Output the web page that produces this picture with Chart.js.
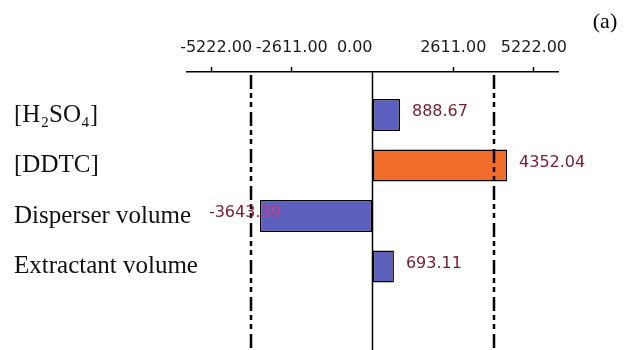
<!DOCTYPE html>
<html>
<head>
<meta charset="utf-8">
<script src="https://cdn.jsdelivr.net/npm/chart.js@4/dist/chart.umd.min.js"></script>
<style>
  html, body { margin: 0; padding: 0; background: #ffffff; }
  #wrap { width: 629px; height: 350px; position: relative; }
</style>
</head>
<body>
<div id="wrap"><canvas id="chart" width="629" height="350"></canvas></div>
<script>
// Factor effects (Pareto-style bar chart)
const categories = ['[H₂SO₄]', '[DDTC]', 'Disperser volume', 'Extractant volume'];
const effects = [888.67, 4352.04, -3643.39, 693.11];
const tickValues = [-5222, -2611, 0, 2611, 5222];
const significanceLimit = 3928;
const axisMin = -6000;
const axisMax = 6000;

const BLUE = '#5b5fbd';
const ORANGE = '#f26c2a';
const LABEL_RED = '#7a2030';
const LABEL_PINK = '#c24aa0';

// tick label spacing: the zero label sits left of its tick, the first one slightly right
function tickText(v) {
  const s = v.toFixed(2);
  if (v === 0) return s + '       ';
  if (v === tickValues[0]) return '  ' + s;
  return s;
}

// Zero line, dash-dot significance limits and the effect values
const overlayPlugin = {
  id: 'overlay',
  afterDatasetsDraw(chart) {
    const ctx = chart.ctx;
    const x = chart.scales.x;
    const top = x.bottom;
    const bottom = chart.height;
    ctx.save();
    ctx.strokeStyle = '#000';
    ctx.lineWidth = 2.5;
    ctx.setLineDash([14, 4, 5, 4, 5, 5]);
    [-significanceLimit, significanceLimit].forEach(v => {
      const px = Math.round(x.getPixelForValue(v));
      ctx.beginPath();
      ctx.moveTo(px, top + 3);
      ctx.lineTo(px, bottom);
      ctx.stroke();
    });
    ctx.setLineDash([]);
    ctx.lineWidth = 1.5;
    const zx = x.getPixelForValue(0);
    ctx.beginPath();
    ctx.moveTo(zx, top);
    ctx.lineTo(zx, bottom);
    ctx.stroke();

    const meta = chart.getDatasetMeta(0);
    ctx.font = '16px "DejaVu Sans"';
    ctx.textBaseline = 'middle';
    meta.data.forEach((bar, i) => {
      const v = effects[i];
      const text = v.toFixed(2);
      const y = bar.y - 3;
      if (v >= 0) {
        ctx.textAlign = 'left';
        ctx.fillStyle = LABEL_RED;
        ctx.fillText(text, bar.x + 12, y);
      } else {
        ctx.textAlign = 'right';
        const tx = bar.x + 21;
        ctx.fillStyle = LABEL_RED;
        ctx.fillText(text, tx, y);
        // part of the label lying over the bar
        const h = bar.height;
        ctx.save();
        ctx.beginPath();
        ctx.rect(bar.x + 1, bar.y - h / 2 + 1, bar.base - bar.x, h - 2);
        ctx.clip();
        ctx.fillStyle = LABEL_PINK;
        ctx.fillText(text, tx, y);
        ctx.restore();
      }
    });

    ctx.font = '22px "Liberation Serif"';
    ctx.fillStyle = '#000';
    ctx.textAlign = 'center';
    ctx.fillText('(a)', 605, 22);
    ctx.restore();
  }
};

const Y_AXIS_WIDTH = 173;
const LEFT_PAD = 14;

new Chart(document.getElementById('chart'), {
  type: 'bar',
  data: {
    labels: categories,
    datasets: [{
      data: effects,
      backgroundColor: ctx => Math.abs(ctx.raw) > significanceLimit ? ORANGE : BLUE,
      borderColor: '#000',
      borderWidth: 1.5,
      borderSkipped: false,
      barPercentage: 0.634,
      categoryPercentage: 1
    }]
  },
  options: {
    indexAxis: 'y',
    responsive: false,
    animation: false,
    events: [],
    layout: { padding: { left: LEFT_PAD, right: 71, top: 27.8, bottom: 58.25 } },
    plugins: { legend: { display: false }, tooltip: { enabled: false } },
    scales: {
      x: {
        type: 'linear',
        position: 'top',
        weight: 2,
        min: axisMin,
        max: axisMax,
        afterBuildTicks: s => { s.ticks = tickValues.map(v => ({ value: v })); },
        ticks: {
          callback: v => tickText(v),
          font: { family: 'DejaVu Sans', size: 16 },
          color: '#1a1a1a',
          padding: 10,
          maxRotation: 0,
          autoSkip: false
        },
        grid: {
          display: true,
          drawOnChartArea: false,
          drawTicks: true,
          tickLength: 5,
          tickWidth: 1.5,
          tickColor: c => (c.tick && c.tick.value === 0) ? 'rgba(0,0,0,0)' : '#000'
        },
        border: { display: true, color: '#000', width: 1.5 }
      },
      gap: {
        type: 'linear',
        position: 'top',
        weight: 1,
        display: true,
        ticks: { display: false },
        grid: { display: false },
        border: { display: false },
        afterFit: s => { s.height = 17.75; }
      },
      y: {
        type: 'category',
        position: 'left',
        afterFit: s => { s.width = Y_AXIS_WIDTH; },
        ticks: {
          mirror: true,
          crossAlign: 'near',
          padding: -Y_AXIS_WIDTH,
          font: { family: 'Liberation Serif', size: 25 },
          color: '#111'
        },
        grid: { display: false },
        border: { display: false }
      }
    }
  },
  plugins: [overlayPlugin]
});
</script>
</body>
</html>
